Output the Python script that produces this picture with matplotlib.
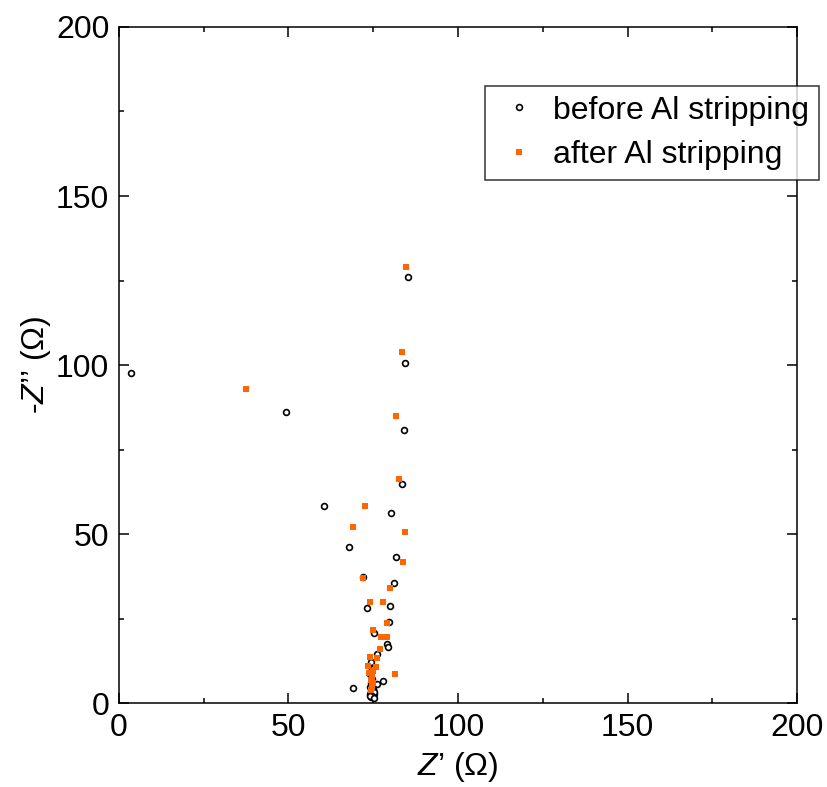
import matplotlib
matplotlib.use("Agg")
import matplotlib.pyplot as plt
from matplotlib.ticker import MultipleLocator

plt.rcParams['font.family'] = ['Liberation Sans', 'DejaVu Sans']
plt.rcParams['mathtext.fontset'] = 'custom'
plt.rcParams['mathtext.it'] = 'Liberation Sans:italic'
plt.rcParams['mathtext.rm'] = 'Liberation Sans'

# ******************* data *******************
before_x = [3.6, 49.3, 60.5, 67.9, 72.1, 73.1, 75.3, 74.4, 76.0, 68.9, 76.0,
            77.8, 79.2, 79.4, 79.7, 79.9, 81.1, 81.7, 80.3, 83.5, 84.1, 84.4,
            85.3, 74.5, 74.8, 74.2, 75.0, 74.6, 74.3, 74.5, 74.0, 74.7,
            73.9, 75.2, 74.4, 74.9, 74.1, 75.3, 74.6, 74.0, 75.1]
before_y = [97.6, 86.2, 58.2, 46.3, 37.4, 28.2, 20.7, 12.2, 14.4, 4.3, 5.7,
            6.5, 17.4, 16.6, 24.0, 28.7, 35.5, 43.1, 56.3, 64.7, 80.9, 100.7,
            126.1, 2.3, 3.0, 3.5, 4.2, 5.0, 6.0, 7.2, 8.5, 10.0,
            2.8, 2.6, 1.8, 3.8, 4.6, 3.2, 2.0, 2.2, 1.6]

after_x = [37.5, 69.1, 72.7, 71.9, 74.0, 74.8, 74.0, 73.5, 73.8, 75.8, 76.2,
           77.0, 77.2, 78.0, 79.0, 79.0, 79.9, 81.3, 83.9, 84.3, 82.5, 81.8,
           83.6, 84.8, 74.2, 74.5, 74.8, 74.3, 74.6, 75.0]
after_y = [93.0, 52.0, 58.4, 37.0, 29.8, 21.5, 13.5, 10.9, 9.0, 10.7, 13.3,
           16.0, 19.6, 29.8, 23.6, 19.6, 34.1, 8.6, 41.7, 50.6, 66.4, 84.8,
           103.8, 128.9, 3.8, 4.8, 5.8, 6.8, 7.8, 9.5]

fig = plt.figure(figsize=(8.28, 7.87), dpi=100)
ax = fig.add_axes([0.1437, 0.1067, 0.8189, 0.859])

ax.plot(before_x, before_y, 'o', ms=4.2, mfc='white', mec='black', mew=1.2,
        label='before Al stripping')
ax.plot(after_x, after_y, 's', ms=4.4, color='#FF6600', mew=0,
        label='after Al stripping')

ax.set_xlim(0, 200)
ax.set_ylim(0, 200)
ax.xaxis.set_major_locator(MultipleLocator(50))
ax.yaxis.set_major_locator(MultipleLocator(50))
ax.xaxis.set_minor_locator(MultipleLocator(25))
ax.yaxis.set_minor_locator(MultipleLocator(25))
ax.tick_params(which='both', direction='in', top=True, right=True,
               labelsize=23, width=1.1)
ax.tick_params(which='major', length=7.5, pad=7)
ax.tick_params(which='minor', length=3.8)
for s in ax.spines.values():
    s.set_linewidth(1.1)

ax.set_xlabel("$Z$\u2019 (\u03a9)", fontsize=23, labelpad=5)
ax.set_ylabel("-$Z$\u2019\u2019 (\u03a9)", fontsize=23, labelpad=2)

leg = ax.legend(loc='upper left', bbox_to_anchor=(0.540, 0.9127),
                fontsize=23, frameon=True, fancybox=False, edgecolor='black',
                handletextpad=0.33, borderpad=0.3, labelspacing=0.45,
                handlelength=1.5, borderaxespad=0)
leg.get_frame().set_linewidth(1.1)

fig.savefig("out.png", dpi=100)
